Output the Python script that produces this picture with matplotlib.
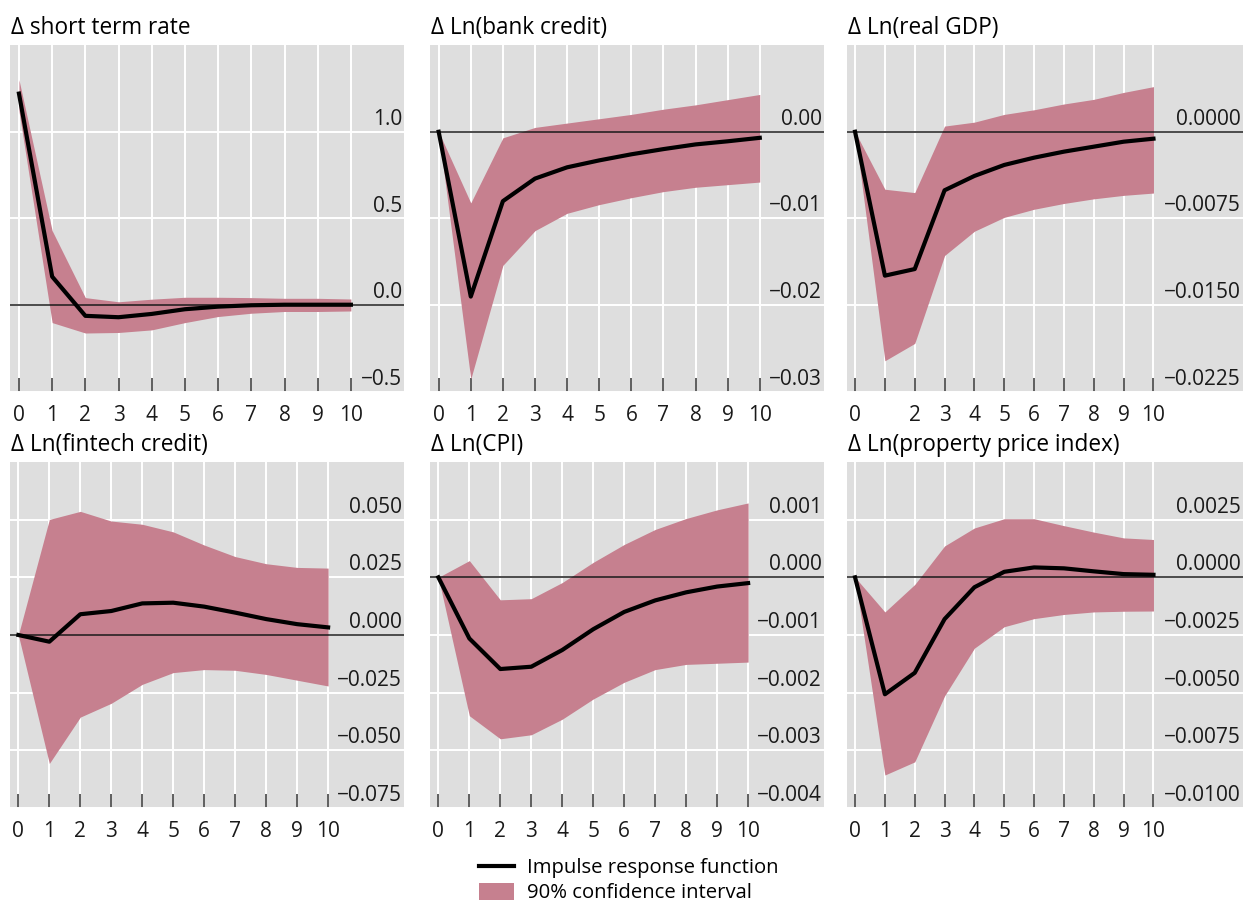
import matplotlib.pyplot as plt
from matplotlib.lines import Line2D
from matplotlib.patches import Patch
from matplotlib.transforms import offset_copy

plt.rcParams['font.family'] = ['Open Sans', 'DejaVu Sans']

# horizon (quarters after the shock)
horizon = list(range(11))

# impulse responses and 90% bands, one set per variable
rate_irf = [1.22, 0.165, -0.061, -0.069, -0.05, -0.023, -0.008, 0.0, 0.003, 0.003, 0.003]
rate_hi = [1.30, 0.43, 0.044, 0.02, 0.035, 0.046, 0.046, 0.044, 0.04, 0.04, 0.036]
rate_lo = [1.12, -0.10, -0.16, -0.157, -0.142, -0.10, -0.065, -0.046, -0.036, -0.036, -0.033]

bank_irf = [0.0, -0.0190, -0.0080, -0.0054, -0.0041, -0.0033, -0.0026, -0.0020, -0.00146, -0.0011, -0.0007]
bank_hi = [0.0, -0.0082, -0.0007, 0.0005, 0.0010, 0.0015, 0.0020, 0.0026, 0.0031, 0.0037, 0.0043]
bank_lo = [0.0, -0.0285, -0.0154, -0.0114, -0.0094, -0.0084, -0.0076, -0.0069, -0.0064, -0.0061, -0.0058]

gdp_irf = [0.0, -0.01244, -0.01187, -0.00506, -0.00382, -0.00287, -0.00224, -0.00172, -0.00129, -0.00086, -0.0006]
gdp_hi = [0.0, -0.00497, -0.00526, 0.00049, 0.00083, 0.0015, 0.0019, 0.0024, 0.0028, 0.0034, 0.0039]
gdp_lo = [0.0, -0.0198, -0.0183, -0.0107, -0.0086, -0.0074, -0.0067, -0.0062, -0.0058, -0.0055, -0.0053]

fintech_irf = [0.0, -0.0029, 0.009, 0.0104, 0.0137, 0.014, 0.0123, 0.0097, 0.0069, 0.0047, 0.0033]
fintech_hi = [0.0, 0.0501, 0.0536, 0.0494, 0.048, 0.0447, 0.039, 0.034, 0.0309, 0.0293, 0.029]
fintech_lo = [0.0, -0.0557, -0.0356, -0.0296, -0.0214, -0.0163, -0.015, -0.0153, -0.0171, -0.0196, -0.0221]

cpi_irf = [0.0, -0.00106, -0.00159, -0.00155, -0.00126, -0.0009, -0.0006, -0.0004, -0.00026, -0.00016, -0.0001]
cpi_hi = [0.0, 0.00029, -0.00039, -0.00037, -0.00009, 0.00026, 0.00057, 0.00083, 0.00102, 0.00117, 0.00129]
cpi_lo = [0.0, -0.0024, -0.0028, -0.00273, -0.00246, -0.00211, -0.00182, -0.0016, -0.00151, -0.00149, -0.00147]

house_irf = [0.0, -0.00507, -0.00414, -0.00181, -0.00043, 0.00024, 0.00043, 0.00039, 0.00026, 0.00014, 0.00011]
house_hi = [0.0, -0.0015, -0.00031, 0.00136, 0.00214, 0.00254, 0.00254, 0.00224, 0.00196, 0.00171, 0.00164]
house_lo = [0.0, -0.00857, -0.008, -0.00514, -0.00307, -0.00214, -0.00179, -0.00161, -0.0015, -0.00147, -0.00146]

titles = ['\u0394 short term rate', '\u0394 Ln(bank credit)', '\u0394 Ln(real GDP)',
          '\u0394 Ln(fintech credit)', '\u0394 Ln(CPI)', '\u0394 Ln(property price index)']

rate_ticks = [-0.5, 0.0, 0.5, 1.0]
bank_ticks = [-0.03, -0.02, -0.01, 0.0]
gdp_ticks = [-0.0225, -0.015, -0.0075, 0.0]
fintech_ticks = [-0.075, -0.05, -0.025, 0.0, 0.025, 0.05]
cpi_ticks = [-0.004, -0.003, -0.002, -0.001, 0.0, 0.001]
house_ticks = [-0.01, -0.0075, -0.005, -0.0025, 0.0, 0.0025]

xlabels_full = [str(h) for h in horizon]
xlabels_gdp = ['0', ''] + [str(h) for h in horizon[2:]]

panels = [
    (rate_irf, rate_lo, rate_hi, rate_ticks, 1, (-0.5, 1.5), 11.6, xlabels_full),
    (bank_irf, bank_lo, bank_hi, bank_ticks, 2, (-0.03, 0.01), 12.0, xlabels_full),
    (gdp_irf, gdp_lo, gdp_hi, gdp_ticks, 4, (-0.0225, 0.0075), 13.0, xlabels_gdp),
    (fintech_irf, fintech_lo, fintech_hi, fintech_ticks, 3, (-0.075, 0.075), 12.45, xlabels_full),
    (cpi_irf, cpi_lo, cpi_hi, cpi_ticks, 3, (-0.004, 0.002), 12.45, xlabels_full),
    (house_irf, house_lo, house_hi, house_ticks, 4, (-0.01, 0.005), 13.0, xlabels_full),
]

W, H = 1252, 902
# axes boxes in pixels: left, right, top, bottom
boxes = [(10, 404, 45, 392), (430, 824, 45, 392), (847, 1243, 45, 392),
         (10, 404, 462, 808), (430, 824, 462, 808), (847, 1243, 462, 808)]

BG = '#dedede'
BAND = '#c6808f'

fig = plt.figure(figsize=(W / 100, H / 100), dpi=100)

for (irf, lo, hi, ticks, dec, ylim, xmax, xlabels), (l, r, t, b), title in zip(panels, boxes, titles):
    ax = fig.add_axes([l / W, 1 - b / H, (r - l) / W, (b - t) / H])
    ax.set_facecolor(BG)
    ax.fill_between(horizon, lo, hi, color=BAND, lw=0, zorder=2)
    ax.axhline(0, color='#1a1a1a', lw=1.1, zorder=3)
    ax.plot(horizon, irf, color='black', lw=3, zorder=4)

    ax.set_xlim(-0.27, xmax)
    ax.set_ylim(*ylim)
    ax.set_xticks(horizon)
    ax.set_xticklabels(xlabels)
    ax.set_yticks(ticks)
    ax.set_yticklabels([])
    ax.set_axisbelow(True)
    ax.grid(True, color='white', lw=1.4)
    for sp in ax.spines.values():
        sp.set_visible(False)
    ax.tick_params(axis='x', direction='in', length=10, width=1.1, color='#333333',
                   pad=9.5, labelsize=15, labelcolor='#1a1a1a')
    ax.tick_params(axis='y', length=0)

    # value labels sit inside the plot, just above their gridline
    lab_tr = offset_copy(ax.get_yaxis_transform(), fig=fig, x=-2, y=7, units='dots')
    for v in ticks:
        s = f'{v:.{dec}f}'.replace('-', '\u2212')
        ax.text(1, v, s, transform=lab_tr, ha='right', va='baseline',
                fontsize=15, color='#1a1a1a')

    title_tr = offset_copy(ax.transAxes, fig=fig, x=1, y=11, units='dots')
    ax.text(0, 1, title, transform=title_tr, ha='left', va='baseline',
            fontsize=16.3, color='black')

handles = [Line2D([], [], color='black', lw=3), Patch(facecolor=BAND, edgecolor='none')]
fig.legend(handles, ['Impulse response function', '90% confidence interval'],
           loc='upper left', bbox_to_anchor=(479 / W, 1 - 858 / H), frameon=False,
           fontsize=14.6, borderpad=0, borderaxespad=0, handlelength=1.75,
           handleheight=0.9, handletextpad=0.6, labelspacing=0.22)

fig.savefig('out.png', dpi=100)
